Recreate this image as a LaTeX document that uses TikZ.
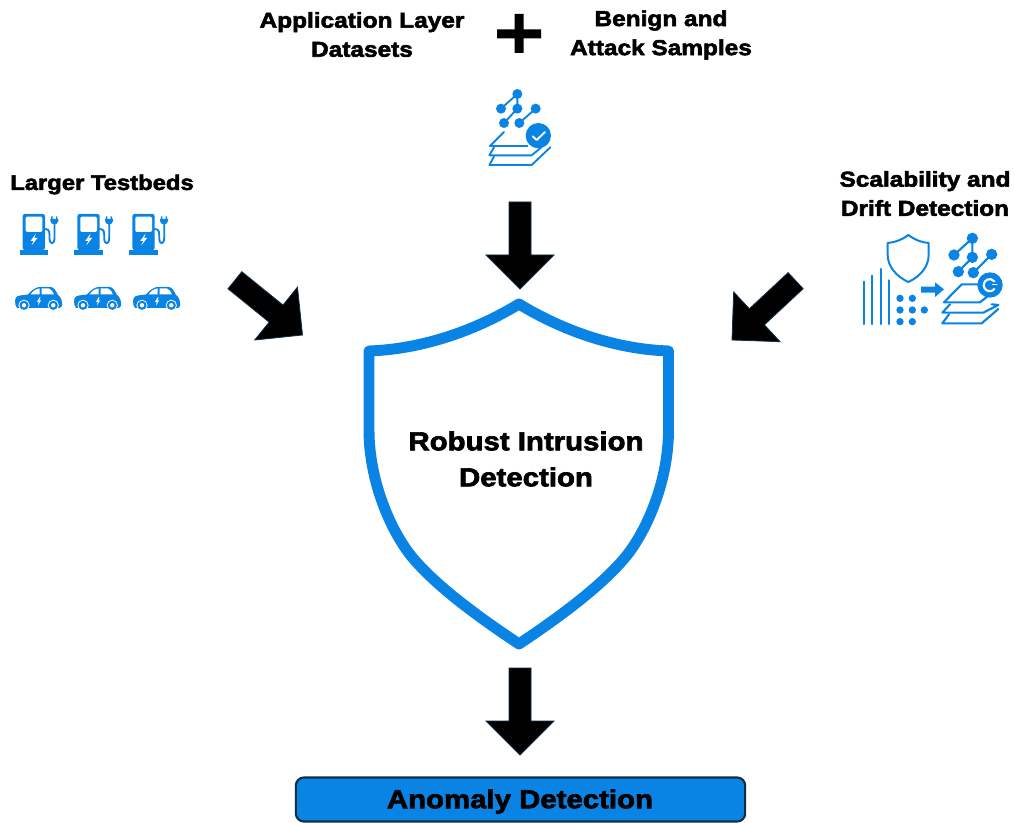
\documentclass[tikz,border=0pt]{standalone}
\usepackage{fontspec}
\setmainfont{Liberation Sans}[BoldFeatures={FakeBold=2.6,FakeStretch=1.13}]
\definecolor{iconblue}{HTML}{0A84E4}
\definecolor{barline}{HTML}{0F2F45}
\tikzset{
  lbl/.style={font=\bfseries\fontsize{16.2}{21.8}\selectfont,text=black,inner sep=0pt,align=center},
  biglbl/.style={font=\bfseries\fontsize{19.5}{27}\selectfont,text=black,inner sep=0pt,align=center},
  arrowfill/.style={fill=black,draw=barline,line width=.6pt,line join=miter},
  iconline/.style={draw=iconblue,line cap=round,line join=round,fill=none},
  charger/.pic={
    \fill[iconblue,rounded corners=1.6] (22.7,250)--(22.7,214)--(45,214)--(45,250)--cycle;
    \fill[iconblue] (19.7,250) rectangle (48,255);
    \fill[white,rounded corners=1] (25.7,216.7) rectangle (42.3,232);
    \fill[white] (36,233.5)--(30.5,241)--(33.5,241)--(31.5,245.5)--(37.5,238)--(34.3,238)--cycle;
    \draw[iconline,line width=1.4] (45,229) .. controls (50,229) and (49.5,233) .. (49.5,238) .. controls (49.5,245) and (54.5,245) .. (54.5,238) -- (54.5,224);
    \fill[iconblue] (50.3,219) -- (58.3,219) -- (58.3,221) .. controls (58.3,223) and (56,224.5) .. (54.3,224.5) .. controls (52.6,224.5) and (50.3,223) .. (50.3,221) -- cycle;
    \fill[iconblue] (51.2,216.5) rectangle (52.6,219.5) (56,216.5) rectangle (57.4,219.5);
  },
  car/.pic={
    \fill[iconblue] (15.5,305) .. controls (14.5,300) and (15,296) .. (20,295.5) -- (28,294.5)
      .. controls (32,290) and (36,286.8) .. (41,286.8) -- (50,286.8)
      .. controls (54,287) and (56,291) .. (58,295) .. controls (61,297) and (62.5,301) .. (62,306)
      -- (60,308) -- (17,308) -- cycle;
    \fill[white] (30.5,294.5) .. controls (33,291) and (35.5,289) .. (39.5,288.5) -- (39.5,294.5) -- cycle;
    \fill[white] (41.5,288.5) -- (49,288.5) .. controls (51.5,289) and (53,292) .. (54,294.5) -- (41.5,294.5) -- cycle;
    \fill[white] (39.5,297.5)--(37,302)--(38.7,302)--(38,305.5)--(41,300.5)--(39.3,300.5)--(40.5,297.5)--cycle;
    \foreach \wx in {24,53.3}{
      \fill[white] (\wx,305.3) circle (5.6);
      \fill[iconblue] (\wx,305.3) circle (4.6);
      \fill[white] (\wx,305.3) circle (2.2);
    }
  }
}
\begin{document}
\begin{tikzpicture}[x=.75pt,y=-.75pt]
\useasboundingbox (0,0) rectangle (1014,823);
\fill[white] (0,0) rectangle (1014,823);

% shield
\draw[iconblue,line width=8.2pt,line join=round,line cap=round,fill=white]
  (519,304) .. controls (478,329) and (425,349) .. (369,351)
  -- (369,430) .. controls (369,480) and (390,530) .. (412,557)
  .. controls (437,587) and (480,618) .. (519,644)
  .. controls (558,618) and (600.5,587) .. (625.5,557)
  .. controls (647.5,530) and (668.5,480) .. (668.5,430) -- (668.5,351)
  .. controls (612.5,349) and (560,329) .. (519,304) -- cycle;
\node[biglbl] (shieldlabel) at (526,459) {Robust Intrusion\\Detection};

% block arrows: tip at the origin, pointing down
\foreach \tx/\ty/\rot in {520/289/0, 520/755/0, 302.5/335/51, 732/340/-47}{
  \begin{scope}[shift={(\tx,\ty)},rotate=\rot]
    \draw[arrowfill] (0,0)--(-34,-34)--(-11,-34)--(-11,-87)--(11,-87)--(11,-34)--(34,-34)--cycle;
  \end{scope}
}

% plus
\fill[black] (497,29.5) rectangle (541,38.5) (514.5,14) rectangle (523.5,53);

% labels
\node[lbl] (applabel) at (362,34.5) {Application Layer\\Datasets};
\node[lbl] (benignlabel) at (661,35) {Benign and\\Attack Samples};
\node[lbl,font=\bfseries\fontsize{15.8}{21.8}\selectfont] (testbedlabel) at (102,184.5) {Larger Testbeds};
\node[lbl] (scalelabel) at (925,193.5) {Scalability and\\Drift Detection};

% chargers and cars
\foreach \dx in {0,54.7,109.7} \pic at (\dx,0) {charger};
\foreach \dx in {0,59,118} \pic at (\dx,0) {car};

% dataset icon
\begin{scope}[shift={(470,70)},x=.25pt,y=-.25pt]
  \draw[iconline,line width=1.4pt] (142,72)--(93,116) (142,72)--(142,116)--(102,159) (197,116)--(148,159);
  \foreach \p in {(142,72),(93,116),(142,116),(197,116),(102,159),(148,159)}
    \fill[iconblue] \p circle (15);
  \draw[iconline,line width=1.4pt] (102,186)--(60,228)--(172,228);
  \draw[iconline,line width=1.4pt] (72,232)--(58,256)--(185,256)--(214,232);
  \draw[iconline,line width=1.4pt] (72,260)--(58,285)--(185,285)--(241,232);
  \fill[iconblue] (205,197) circle (38);
  \draw[white,line width=1.4pt,line cap=round,line join=round] (188,199)--(200,210)--(225,186);
\end{scope}

% scalability icon
\begin{scope}[shift={(850,225)},x=.25pt,y=-.25pt]
  \draw[iconline,line width=1.5pt] (175,30) .. controls (155,45) and (135,52) .. (113,54) -- (113,90) .. controls (113,125) and (140,155) .. (175,171)
   .. controls (210,155) and (236,125) .. (236,90) -- (236,54) .. controls (214,52) and (195,45) .. (175,30) -- cycle;
  \draw[iconline,line width=1.7pt] (42,170)--(42,297) (67,152)--(67,297) (93,132)--(93,297) (118,166)--(118,297);
  \foreach \p in {(150,220),(187,220),(150,255),(187,255),(223,255),(150,290),(187,290)}
    \fill[iconblue] \p circle (11);
  \fill[iconblue] (213,185)--(255,185)--(255,172)--(282,193)--(255,216)--(255,203)--(213,203)--cycle;
  \draw[iconline,line width=1.6pt] (367,40)--(312,90) (367,40)--(367,97)--(325,140) (425,88)--(370,143);
  \foreach \p in {(367,40),(312,90),(367,97),(425,88),(325,140),(370,143)}
    \fill[iconblue] \p circle (17);
  \draw[iconline,line width=1.6pt] (392,178)--(335,178)--(282,232)--(390,232)--(420,208);
  \draw[iconline,line width=1.6pt] (300,238)--(277,263)--(400,263)--(445,240)--(425,238);
  \draw[iconline,line width=1.6pt] (297,268)--(277,295)--(395,295)--(445,252);
  \fill[iconblue] (420,180) circle (38);
  \draw[white,line width=1.6pt,line cap=round] (433,192) arc (40:320:18);
  \draw[white,line width=1.1pt,line cap=round] (428,179)--(440,179);
\end{scope}

% output bar
\node[draw=barline,line width=1.6pt,fill=iconblue,rounded corners=6pt,minimum width=337pt,minimum height=33pt,inner sep=0pt] (bar) at (520.5,799.5) {};
\node[biglbl] (barlabel) at (520,801.5) {Anomaly Detection};
\end{tikzpicture}
\end{document}
